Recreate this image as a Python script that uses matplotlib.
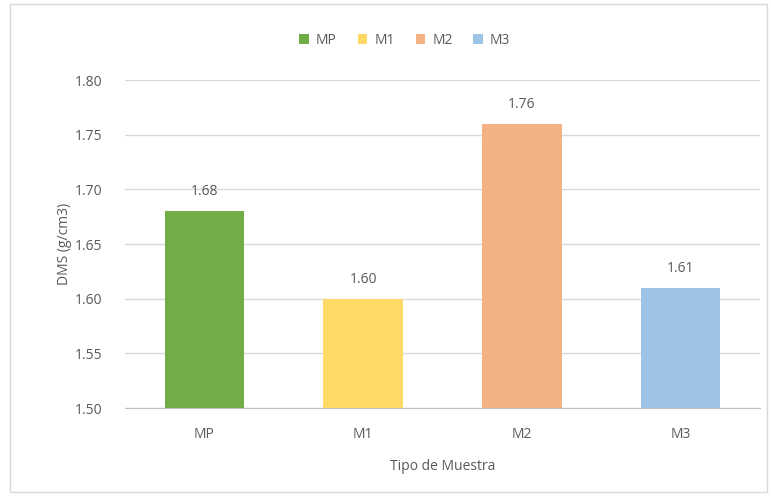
import matplotlib
matplotlib.use("Agg")
import matplotlib.pyplot as plt
from matplotlib.patches import Rectangle

categories = ["MP", "M1", "M2", "M3"]
values = [1.68, 1.60, 1.76, 1.61]
labels = ["1.68", "1.60", "1.76", "1.61"]
colors = ["#70AD47", "#FFD966", "#F4B183", "#9DC3E6"]
yticks = [1.50, 1.55, 1.60, 1.65, 1.70, 1.75, 1.80]

plt.rcParams['font.family'] = ['Open Sans', 'DejaVu Sans']
txt = "#595959"
fs = 10

fig = plt.figure(figsize=(7.71, 4.97), dpi=100)
fig.patches.append(Rectangle((10/771, 5/497), 757/771, 488/497, transform=fig.transFigure,
                             fill=False, edgecolor="#D9D9D9", linewidth=1))
ax = fig.add_axes([125/771, 1-408/497, 635/771, 328/497])
x = range(len(categories))
bars = ax.bar(x, [v - 1.5 for v in values], bottom=1.5, width=0.5, color=colors, zorder=3,
              label=categories)
for xi, v, l in zip(x, values, labels):
    ax.text(xi, v + 0.011, l, ha="center", va="bottom", fontsize=fs, color=txt)
ax.set_ylim(1.5, 1.8)
ax.set_xlim(-0.5, 3.5)
ax.set_yticks(yticks)
ax.set_yticklabels([f"{t:.2f}" for t in yticks])
ax.set_xticks(list(x))
ax.set_xticklabels(categories)
ax.tick_params(axis="both", length=0, colors=txt, labelsize=fs)
ax.tick_params(axis="x", pad=14)
ax.tick_params(axis="y", pad=16)
ax.grid(axis="y", color="#D9D9D9", linewidth=1, zorder=0)
for s in ["top", "right", "left"]:
    ax.spines[s].set_visible(False)
ax.spines["bottom"].set_color("#BFBFBF")
ax.set_xlabel("Tipo de Muestra", color=txt, fontsize=fs, labelpad=12)
ax.set_ylabel("DMS (g/cm3)", color=txt, fontsize=fs, labelpad=2)
fig.legend(handles=bars.patches, labels=categories, loc="center", bbox_to_anchor=(0.525, 1-40/497),
           ncol=4, frameon=False, fontsize=fs, handlelength=0.7, handleheight=0.7,
           handletextpad=0.5, columnspacing=1.5, labelcolor=txt)
fig.savefig("out.png", dpi=100)
